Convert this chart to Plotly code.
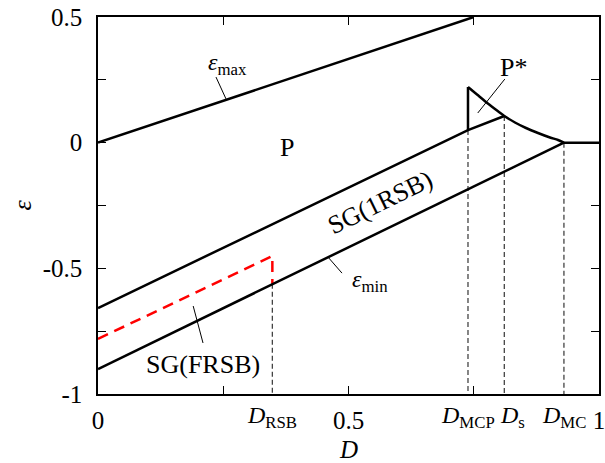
import plotly.graph_objects as go

# --- data ---
D_RSB, D_MCP, D_S, D_MC = 0.348, 0.7385, 0.811, 0.930

emax_D = [0.0, 0.75]
emax_E = [0.0, 0.5]

upper_D = [0.0, D_MCP, D_S]
upper_E = [-0.658, 0.050, 0.106]

lower_D = [0.0, D_MC]
lower_E = [-0.9006, 0.0]

frsb_D = [0.0, D_RSB, D_RSB]
frsb_E = [-0.781, -0.451, -0.561]

pstar_wall_D = [D_MCP, D_MCP]
pstar_wall_E = [0.050, 0.2215]

pstar_D = [D_MCP, 0.7565, 0.7745, 0.7924, D_S, 0.8323, 0.8543, 0.8782, 0.9022, 0.9182, D_MC]
pstar_E = [0.2215, 0.1917, 0.1618, 0.1340, 0.1061, 0.0803, 0.0584, 0.0385, 0.0206, 0.0107, 0.0]

flat_D = [D_MC, 1.0]
flat_E = [0.0, 0.0]

vdash_D = [D_RSB, D_MCP, D_S, D_MC]
vdash_top = [-0.561, 0.050, 0.106, 0.0]

x_tickvals = [0, 0.25, 0.5, 0.75, 1]
x_ticktext = ["0", "", "0.5", "", "1"]
y_tickvals = [0.5, 0.25, 0, -0.25, -0.5, -0.75, -1]
y_ticktext = ["0.5", "", "0", "", "-0.5", "", "-1"]

dlabels_x = [D_RSB, D_MCP, D_S, D_MC]
dlabels_t = ["<i>D</i><sub>RSB</sub>", "<i>D</i><sub>MCP</sub>", "<i>D</i><sub>s</sub>", "<i>D</i><sub>MC</sub>"]
dlabels_shift = [0, 0, 8, 0]

region_text = ["<i>ε</i><sub>max</sub>", "P", "P*", "SG(1RSB)", "<i>ε</i><sub>min</sub>", "SG(FRSB)"]
region_x = [0.2575, 0.377, 0.830, 0.563, 0.543, 0.2096]
region_y = [0.313, -0.021, 0.301, -0.240, -0.550, -0.881]
region_angle = [0, 0, 0, -26, 0, 0]
region_size = [24, 26, 26, 26, 24, 26]

leaders = [
    ([0.2355, 0.2555], [0.261, 0.174]),
    ([0.812, 0.758], [0.253, 0.118]),
    ([0.190, 0.2096], [-0.650, -0.797]),
    ([0.459, 0.487], [-0.455, -0.519]),
]

FONT = "Liberation Serif"
fig = go.Figure()

for xd, top in zip(vdash_D, vdash_top):
    fig.add_trace(go.Scatter(x=[xd, xd], y=[top, -1], mode="lines",
                             line=dict(color="#444444", width=1.3, dash="5px,3px")))

for xs, ys in leaders:
    fig.add_trace(go.Scatter(x=xs, y=ys, mode="lines", line=dict(color="black", width=1)))

fig.add_trace(go.Scatter(x=frsb_D, y=frsb_E, mode="lines",
                         line=dict(color="#ff0000", width=2.5, dash="11px,7px")))
for xs, ys in [(emax_D, emax_E), (upper_D, upper_E), (lower_D, lower_E),
               (pstar_wall_D, pstar_wall_E), (flat_D, flat_E)]:
    fig.add_trace(go.Scatter(x=xs, y=ys, mode="lines", line=dict(color="black", width=2.5)))
fig.add_trace(go.Scatter(x=pstar_D, y=pstar_E, mode="lines",
                         line=dict(color="black", width=2.5, shape="spline", smoothing=0.8)))

for t, x, y, a, s in zip(region_text, region_x, region_y, region_angle, region_size):
    fig.add_annotation(x=x, y=y, text=t, showarrow=False, textangle=a,
                       font=dict(family=FONT, size=s, color="black"))

for x, t, sh in zip(dlabels_x, dlabels_t, dlabels_shift):
    fig.add_annotation(x=x, y=0, yref="paper", text=t, showarrow=False, yanchor="top", yshift=-6,
                       xshift=sh, font=dict(family=FONT, size=24, color="black"))

fig.add_annotation(x=0.5, y=0, yref="paper", text="<i>D</i>", showarrow=False, yanchor="middle",
                   yshift=-55, font=dict(family=FONT, size=25, color="black"))
fig.add_annotation(x=0, xref="paper", y=-0.25, text="<i>ε</i>", showarrow=False, textangle=-90,
                   xanchor="center", yanchor="middle", xshift=-76,
                   font=dict(family=FONT, size=26, color="black"))

axis_common = dict(showgrid=False, zeroline=False, showline=True, linecolor="black", linewidth=1.5,
                   mirror="ticks", ticks="inside", ticklen=8, tickwidth=1.2, tickcolor="black",
                   automargin=False, ticklabeloverflow="allow",
                   tickfont=dict(family=FONT, size=25, color="black"))
fig.update_xaxes(range=[0, 1], tickvals=x_tickvals, ticktext=x_ticktext, ticklabelstandoff=3,
                 **axis_common)
fig.update_yaxes(range=[-1, 0.5], tickvals=y_tickvals, ticktext=y_ticktext, ticklabelstandoff=9,
                 **axis_common)

fig.update_layout(width=605, height=463, margin=dict(l=98, r=6, t=17, b=69, autoexpand=False),
                  plot_bgcolor="white", paper_bgcolor="white", showlegend=False)

fig.write_html("out.html")
